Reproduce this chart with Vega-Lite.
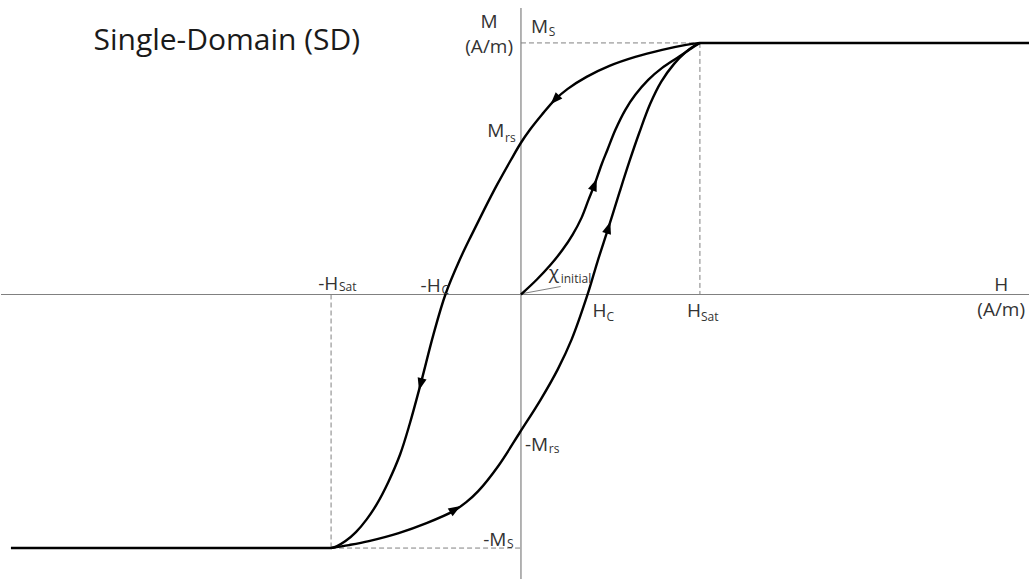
{
  "$schema": "https://vega.github.io/schema/vega-lite/v6.json",
  "width": 1034,
  "height": 580,
  "padding": 0,
  "autosize": {"type": "fit", "contains": "padding"},
  "background": "white",
  "config": {"view": {"stroke": null}},
  "datasets": {
    "axes": [
      {"H": -523, "H2": 511, "M": 0, "M2": 0},
      {"H": 0, "H2": 0, "M": 287, "M2": -285}
    ],
    "guides": [
      {"H": 0, "H2": 180, "M": 252, "M2": 252},
      {"H": 180, "H2": 180, "M": 252, "M2": 0},
      {"H": -191, "H2": -191, "M": 0, "M2": -254},
      {"H": -191, "H2": 0, "M": -254, "M2": -254}
    ],
    "leader": [
      {"H": 2, "H2": 40, "M": 1, "M2": 8}
    ],
    "curves": [
      {"branch": "sat_top", "i": 0, "H": 180, "M": 252},
      {"branch": "sat_top", "i": 1, "H": 511, "M": 252},
      {"branch": "sat_bottom", "i": 0, "H": -513, "M": -254},
      {"branch": "sat_bottom", "i": 1, "H": -191, "M": -254},

      {"branch": "descending", "i": 0, "H": 180, "M": 252},
      {"branch": "descending", "i": 1, "H": 166, "M": 250},
      {"branch": "descending", "i": 2, "H": 142, "M": 245},
      {"branch": "descending", "i": 3, "H": 115, "M": 238},
      {"branch": "descending", "i": 4, "H": 89, "M": 229},
      {"branch": "descending", "i": 5, "H": 66, "M": 218},
      {"branch": "descending", "i": 6, "H": 47, "M": 206},
      {"branch": "descending", "i": 7, "H": 34, "M": 195},
      {"branch": "descending", "i": 8, "H": 21, "M": 180},
      {"branch": "descending", "i": 9, "H": 9, "M": 165},
      {"branch": "descending", "i": 10, "H": 0, "M": 152},
      {"branch": "descending", "i": 11, "H": -10, "M": 135},
      {"branch": "descending", "i": 12, "H": -24, "M": 110},
      {"branch": "descending", "i": 13, "H": -37, "M": 85},
      {"branch": "descending", "i": 14, "H": -49.5, "M": 60},
      {"branch": "descending", "i": 15, "H": -61.5, "M": 35},
      {"branch": "descending", "i": 16, "H": -76, "M": 0},
      {"branch": "descending", "i": 17, "H": -88, "M": -40},
      {"branch": "descending", "i": 18, "H": -101, "M": -90},
      {"branch": "descending", "i": 19, "H": -112, "M": -130},
      {"branch": "descending", "i": 20, "H": -121.5, "M": -160},
      {"branch": "descending", "i": 21, "H": -133.5, "M": -188},
      {"branch": "descending", "i": 22, "H": -145, "M": -210},
      {"branch": "descending", "i": 23, "H": -155, "M": -225},
      {"branch": "descending", "i": 24, "H": -166, "M": -238},
      {"branch": "descending", "i": 25, "H": -176.5, "M": -247},
      {"branch": "descending", "i": 26, "H": -185, "M": -252},
      {"branch": "descending", "i": 27, "H": -191, "M": -254},

      {"branch": "ascending", "i": 0, "H": -191, "M": -254},
      {"branch": "ascending", "i": 1, "H": -173, "M": -251},
      {"branch": "ascending", "i": 2, "H": -153, "M": -247},
      {"branch": "ascending", "i": 3, "H": -123, "M": -239},
      {"branch": "ascending", "i": 4, "H": -95, "M": -229},
      {"branch": "ascending", "i": 5, "H": -68, "M": -217},
      {"branch": "ascending", "i": 6, "H": -55, "M": -208},
      {"branch": "ascending", "i": 7, "H": -43, "M": -197},
      {"branch": "ascending", "i": 8, "H": -23, "M": -172},
      {"branch": "ascending", "i": 9, "H": -1, "M": -138},
      {"branch": "ascending", "i": 10, "H": 20, "M": -105},
      {"branch": "ascending", "i": 11, "H": 37, "M": -75},
      {"branch": "ascending", "i": 12, "H": 51, "M": -45},
      {"branch": "ascending", "i": 13, "H": 67, "M": 0},
      {"branch": "ascending", "i": 14, "H": 77, "M": 33},
      {"branch": "ascending", "i": 15, "H": 88, "M": 67},
      {"branch": "ascending", "i": 16, "H": 99, "M": 102},
      {"branch": "ascending", "i": 17, "H": 109, "M": 133},
      {"branch": "ascending", "i": 18, "H": 119, "M": 162},
      {"branch": "ascending", "i": 19, "H": 130, "M": 191},
      {"branch": "ascending", "i": 20, "H": 141, "M": 213},
      {"branch": "ascending", "i": 21, "H": 154, "M": 231},
      {"branch": "ascending", "i": 22, "H": 166, "M": 243},
      {"branch": "ascending", "i": 23, "H": 174, "M": 249},
      {"branch": "ascending", "i": 24, "H": 180, "M": 252},

      {"branch": "initial", "i": 0, "H": 0, "M": 0},
      {"branch": "initial", "i": 1, "H": 16, "M": 15},
      {"branch": "initial", "i": 2, "H": 30, "M": 30},
      {"branch": "initial", "i": 3, "H": 42, "M": 45},
      {"branch": "initial", "i": 4, "H": 52, "M": 60},
      {"branch": "initial", "i": 5, "H": 61, "M": 77},
      {"branch": "initial", "i": 6, "H": 68, "M": 95},
      {"branch": "initial", "i": 7, "H": 74, "M": 110},
      {"branch": "initial", "i": 8, "H": 81, "M": 130},
      {"branch": "initial", "i": 9, "H": 87, "M": 145},
      {"branch": "initial", "i": 10, "H": 95, "M": 165},
      {"branch": "initial", "i": 11, "H": 105, "M": 185},
      {"branch": "initial", "i": 12, "H": 115, "M": 200},
      {"branch": "initial", "i": 13, "H": 128, "M": 215},
      {"branch": "initial", "i": 14, "H": 142, "M": 227},
      {"branch": "initial", "i": 15, "H": 157, "M": 237},
      {"branch": "initial", "i": 16, "H": 169, "M": 245},
      {"branch": "initial", "i": 17, "H": 175, "M": 249},
      {"branch": "initial", "i": 18, "H": 180, "M": 252}
    ],
    "arrows": [
      {"H": 34, "M": 195, "dir": 224},
      {"H": -101, "M": -90, "dir": 195},
      {"H": -66, "M": -215, "dir": 58},
      {"H": 74, "M": 110, "dir": 21},
      {"H": 88, "M": 67, "dir": 18}
    ],
    "labels": [
      {"H": -32, "M": 267, "text": "M", "pos": "center"},
      {"H": -32, "M": 242, "text": "(A/m)", "pos": "center"},
      {"H": 483, "M": 3, "text": "H", "pos": "center"},
      {"H": 483, "M": -22, "text": "(A/m)", "pos": "center"},
      {"H": 10, "M": 262, "text": "M", "pos": "left"},
      {"H": -34, "M": 158, "text": "M", "pos": "left"},
      {"H": -204, "M": 5, "text": "-H", "pos": "left"},
      {"H": -101, "M": 2, "text": "-H", "pos": "left"},
      {"H": 28, "M": 16, "text": "χ", "pos": "left"},
      {"H": 72, "M": -23, "text": "H", "pos": "left"},
      {"H": 167, "M": -23, "text": "H", "pos": "left"},
      {"H": 4, "M": -157, "text": "-M", "pos": "left"},
      {"H": -38, "M": -252, "text": "-M", "pos": "left"}
    ],
    "subs": [
      {"H": 28, "M": 259, "text": "S"},
      {"H": -16, "M": 153, "text": "rs"},
      {"H": -183, "M": 3, "text": "Sat"},
      {"H": -80, "M": 0, "text": "C"},
      {"H": 40, "M": 12, "text": "initial"},
      {"H": 86, "M": -27, "text": "C"},
      {"H": 181, "M": -27, "text": "Sat"},
      {"H": 28, "M": -159, "text": "rs"},
      {"H": -14, "M": -254, "text": "S"}
    ],
    "title": [
      {"H": -430, "M": 245, "text": "Single-Domain (SD)"}
    ]
  },
  "encoding": {
    "x": {"field": "H", "type": "quantitative", "axis": null,
          "scale": {"domain": [-523, 511], "nice": false, "zero": false}},
    "y": {"field": "M", "type": "quantitative", "axis": null,
          "scale": {"domain": [-285, 295], "nice": false, "zero": false}}
  },
  "layer": [
    {
      "data": {"name": "axes"},
      "mark": {"type": "rule", "color": "#808080", "strokeWidth": 1.2},
      "encoding": {"x2": {"field": "H2"}, "y2": {"field": "M2"}}
    },
    {
      "data": {"name": "guides"},
      "mark": {"type": "rule", "color": "#808080", "strokeWidth": 1, "strokeDash": [5, 3]},
      "encoding": {"x2": {"field": "H2"}, "y2": {"field": "M2"}}
    },
    {
      "data": {"name": "leader"},
      "mark": {"type": "rule", "color": "#808080", "strokeWidth": 1},
      "encoding": {"x2": {"field": "H2"}, "y2": {"field": "M2"}}
    },
    {
      "data": {"name": "curves"},
      "mark": {"type": "line", "color": "#000000", "strokeWidth": 2.4, "interpolate": "catmull-rom"},
      "encoding": {
        "detail": {"field": "branch", "type": "nominal"},
        "order": {"field": "i", "type": "quantitative"}
      }
    },
    {
      "data": {"name": "arrows"},
      "mark": {"type": "point", "shape": "M0,-1L0.75,1L-0.75,1Z", "filled": true, "color": "#000000", "size": 150, "opacity": 1},
      "encoding": {
        "angle": {"field": "dir", "type": "quantitative", "scale": null}
      }
    },
    {
      "data": {"name": "labels"},
      "transform": [{"filter": "datum.pos === 'center'"}],
      "mark": {"type": "text", "font": "Open Sans", "fontSize": 19, "color": "#333333", "align": "center", "baseline": "alphabetic"},
      "encoding": {"text": {"field": "text"}}
    },
    {
      "data": {"name": "labels"},
      "transform": [{"filter": "datum.pos === 'left'"}],
      "mark": {"type": "text", "font": "Open Sans", "fontSize": 19, "color": "#333333", "align": "left", "baseline": "alphabetic"},
      "encoding": {"text": {"field": "text"}}
    },
    {
      "data": {"name": "subs"},
      "mark": {"type": "text", "font": "Open Sans", "fontSize": 12, "color": "#333333", "align": "left", "baseline": "alphabetic"},
      "encoding": {"text": {"field": "text"}}
    },
    {
      "data": {"name": "title"},
      "mark": {"type": "text", "font": "Open Sans", "fontSize": 30, "color": "#1a1a1a", "align": "left", "baseline": "alphabetic"},
      "encoding": {"text": {"field": "text"}}
    }
  ]
}
